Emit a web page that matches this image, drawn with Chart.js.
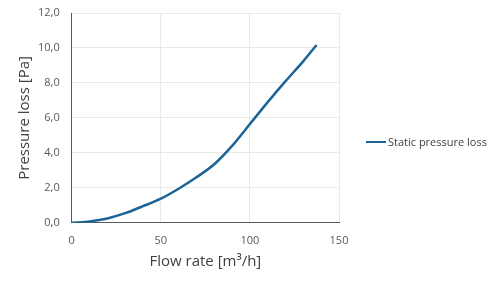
<!DOCTYPE html>
<html lang="en">
<head>
    <meta charset="UTF-8">
    <script src="https://cdn.jsdelivr.net/npm/chart.js"></script>
    <title>Pressure loss</title>
    <style>
        body { margin: 0; background: #fff; }
        .box { width: 500px; height: 284px; position: relative; }
        .legenda {
            position: absolute; left: 366px; top: 134px;
            font-family: 'Open Sans', sans-serif; font-size: 11px; color: #404040;
            line-height: 16px; white-space: nowrap;
        }
        .legenda span.traco {
            display: inline-block; width: 20px; height: 2.5px; background: #1b6496;
            vertical-align: middle; margin-right: 2px; margin-top: -2px;
        }
    </style>
</head>
<body>
    <div class="box">
        <canvas id="grafico"></canvas>
        <div class="legenda" id="legenda"></div>
    </div>

<script>
    // dados
    var fluxo = [0, 10, 20, 30, 40, 50, 60, 70, 80, 90, 100, 110, 120, 130, 137.4];
    var pressao = [0, 0.08, 0.25, 0.55, 0.95, 1.38, 1.95, 2.6, 3.35, 4.4, 5.65, 6.9, 8.1, 9.25, 10.17];
    var ticksX = [0, 50, 100, 150];
    var ticksY = [0, 2, 4, 6, 8, 10, 12];
    var nomeSerie = 'Static pressure loss';

    var azul = '#1b6496';
    var cinza = '#595959';

    legenda.innerHTML = '<span class="traco"></span>' + nomeSerie;

    const ctx = document.getElementById('grafico');

    new Chart(ctx, {
      type: 'line',
      data: {
        datasets: [{
          label: nomeSerie,
          data: fluxo.map(function (x, i) { return { x: x, y: pressao[i] }; }),
          borderColor: azul,
          backgroundColor: azul,
          borderWidth: 2.5,
          pointRadius: 0,
          tension: 0.3
        }]
      },
      options: {
        responsive: true,
        maintainAspectRatio: false,
        animation: false,
        layout: { padding: { left: 8, right: 161, top: 13, bottom: 13 } },
        plugins: {
          tooltip: { enabled: false },
          legend: { display: false }
        },
        scales: {
          x: {
            type: 'linear',
            min: 0,
            max: 150,
            afterBuildTicks: function (s) { s.ticks = ticksX.map(function (v) { return { value: v }; }); },
            grid: { color: '#e9e9e9', drawTicks: false },
            border: { color: cinza, width: 1 },
            ticks: {
              color: cinza,
              padding: 11,
              font: { family: 'Open Sans', size: 11 }
            },
            title: {
              display: true,
              text: 'Flow rate [m³/h]',
              color: '#404040',
              padding: { top: -5, bottom: 0 },
              font: { family: 'Open Sans', size: 15 }
            }
          },
          y: {
            min: 0,
            max: 12,
            afterBuildTicks: function (s) { s.ticks = ticksY.map(function (v) { return { value: v }; }); },
            afterFit: function (s) { s.paddingTop = 0; },
            grid: { color: '#e9e9e9', drawTicks: false },
            border: { color: cinza, width: 1 },
            ticks: {
              color: cinza,
              padding: 12,
              font: { family: 'Open Sans', size: 11 },
              callback: function (v) { return v.toFixed(1).replace('.', ','); }
            },
            title: {
              display: true,
              text: 'Pressure loss [Pa]',
              color: '#404040',
              padding: { top: 8, bottom: -8 },
              font: { family: 'Open Sans', size: 15 }
            }
          }
        }
      }
    });
</script>
</body>
</html>
